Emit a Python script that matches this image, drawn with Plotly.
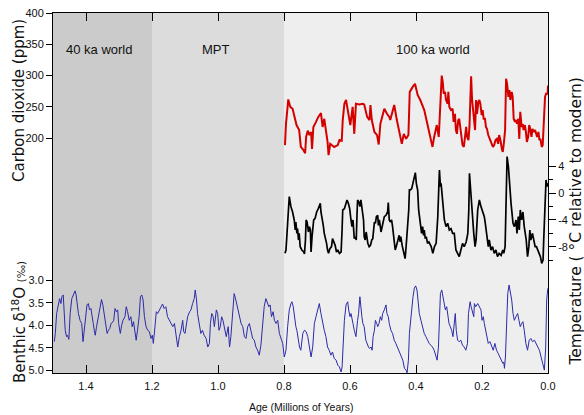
import plotly.graph_objects as go

# ---------------- data ----------------
co2_age = [0.797, 0.794, 0.787, 0.781, 0.774, 0.767, 0.762, 0.754, 0.749, 0.741, 0.736, 0.733, 0.728, 0.723,
           0.718, 0.715, 0.711, 0.703, 0.696, 0.688, 0.683, 0.678, 0.673, 0.668, 0.665, 0.660, 0.648, 0.637,
           0.632, 0.625, 0.622, 0.617, 0.612, 0.605, 0.599, 0.592, 0.587, 0.582, 0.572, 0.562, 0.557, 0.548,
           0.541, 0.538, 0.534, 0.526, 0.518, 0.513, 0.508, 0.501, 0.496, 0.488, 0.481, 0.478, 0.471, 0.466,
           0.458, 0.451, 0.443, 0.437, 0.430, 0.423, 0.419, 0.410, 0.403, 0.395, 0.387, 0.375, 0.368, 0.360,
           0.350, 0.345, 0.337, 0.331, 0.327, 0.322, 0.319, 0.316, 0.312, 0.309, 0.304, 0.302, 0.299, 0.294,
           0.289, 0.286, 0.282, 0.279, 0.276, 0.272, 0.269, 0.266, 0.262, 0.259, 0.255, 0.251, 0.248, 0.245,
           0.241, 0.238, 0.235, 0.233, 0.230, 0.227, 0.223, 0.221, 0.218, 0.215, 0.211, 0.208, 0.205, 0.201,
           0.198, 0.195, 0.191, 0.188, 0.185, 0.181, 0.175, 0.171, 0.167, 0.163, 0.159, 0.155, 0.151, 0.148,
           0.144, 0.140, 0.137, 0.134, 0.130, 0.127, 0.124, 0.120, 0.117, 0.114, 0.110, 0.107, 0.104, 0.100,
           0.097, 0.094, 0.090, 0.087, 0.084, 0.080, 0.077, 0.074, 0.070, 0.067, 0.064, 0.060, 0.057, 0.054,
           0.050, 0.047, 0.043, 0.039, 0.036, 0.033, 0.029, 0.026, 0.023, 0.019, 0.016, 0.013, 0.009, 0.006,
           0.001, 0.000]
co2_ppm = [189, 223, 262, 250, 247, 229, 221, 213, 186, 181, 176, 202, 212, 205,
           210, 183, 218, 226, 234, 240, 218, 231, 215, 194, 173, 191, 186, 189,
           197, 196, 229, 255, 261, 239, 221, 250, 207, 255, 254, 255, 254, 234,
           229, 253, 229, 210, 205, 190, 223, 237, 247, 239, 234, 229, 245, 253,
           229, 210, 191, 207, 199, 205, 274, 282, 287, 269, 261, 245, 229, 210,
           186, 202, 221, 202, 255, 300, 290, 271, 274, 261, 255, 274, 250, 245,
           247, 226, 239, 213, 207, 229, 231, 218, 197, 189, 186, 202, 218, 202,
           197, 218, 255, 299, 261, 245, 223, 213, 261, 239, 258, 261, 255, 237,
           245, 231, 231, 218, 215, 205, 197, 191, 186, 189, 197, 199, 191, 205,
           197, 183, 178, 191, 213, 295, 287, 266, 277, 261, 274, 266, 231, 226,
           229, 223, 231, 199, 242, 218, 223, 213, 221, 210, 194, 202, 221, 215,
           202, 215, 210, 213, 207, 202, 210, 197, 199, 186, 189, 229, 266, 271,
           271, 284]

temp_age = [0.797, 0.794, 0.789, 0.784, 0.779, 0.774, 0.769, 0.766, 0.764, 0.761, 0.759, 0.756, 0.754, 0.751,
            0.746, 0.740, 0.738, 0.735, 0.733, 0.730, 0.726, 0.723, 0.720, 0.718, 0.715, 0.710, 0.706, 0.701,
            0.696, 0.693, 0.690, 0.688, 0.685, 0.681, 0.678, 0.675, 0.671, 0.668, 0.665, 0.661, 0.656, 0.653,
            0.649, 0.645, 0.641, 0.637, 0.632, 0.627, 0.624, 0.622, 0.617, 0.612, 0.609, 0.605, 0.601, 0.597,
            0.594, 0.591, 0.589, 0.587, 0.584, 0.581, 0.579, 0.577, 0.573, 0.570, 0.567, 0.565, 0.562, 0.559,
            0.557, 0.554, 0.551, 0.546, 0.542, 0.538, 0.534, 0.531, 0.526, 0.523, 0.520, 0.516, 0.514, 0.511,
            0.506, 0.503, 0.499, 0.496, 0.491, 0.486, 0.484, 0.481, 0.478, 0.474, 0.471, 0.469, 0.466, 0.463,
            0.460, 0.456, 0.451, 0.448, 0.446, 0.442, 0.439, 0.435, 0.433, 0.430, 0.427, 0.425, 0.422, 0.420,
            0.417, 0.413, 0.409, 0.405, 0.402, 0.399, 0.395, 0.392, 0.389, 0.387, 0.383, 0.380, 0.377, 0.375,
            0.372, 0.369, 0.365, 0.361, 0.354, 0.349, 0.344, 0.339, 0.334, 0.329, 0.326, 0.324, 0.319, 0.316,
            0.314, 0.309, 0.304, 0.299, 0.294, 0.289, 0.284, 0.279, 0.274, 0.269, 0.264, 0.259, 0.254, 0.248,
            0.243, 0.240, 0.238, 0.235, 0.233, 0.228, 0.225, 0.221, 0.218, 0.213, 0.208, 0.203, 0.198, 0.193,
            0.190, 0.185, 0.181, 0.178, 0.173, 0.168, 0.163, 0.158, 0.153, 0.148, 0.142, 0.137, 0.134, 0.130,
            0.127, 0.124, 0.120, 0.117, 0.114, 0.112, 0.109, 0.106, 0.102, 0.097, 0.094, 0.090, 0.087, 0.084,
            0.080, 0.076, 0.072, 0.069, 0.066, 0.062, 0.058, 0.055, 0.052, 0.047, 0.044, 0.039, 0.035, 0.031,
            0.027, 0.023, 0.019, 0.015, 0.013, 0.011, 0.009, 0.006, 0.003, 0.000]
temp_c = [-9.0, -8.5, -4.5, -0.5, -2.0, -2.8, -4.0, -5.5, -4.3, -6.0, -5.3, -7.0, -6.0, -8.0,
          -8.5, -8.8, -9.1, -7.0, -4.0, -4.3, -5.8, -5.0, -5.5, -8.8, -6.5, -4.0, -3.8, -2.8,
          -2.3, -1.8, -1.5, -2.8, -3.5, -4.8, -6.0, -6.5, -7.5, -8.5, -9.0, -8.3, -8.0, -6.8,
          -7.3, -7.8, -8.8, -8.5, -9.0, -8.8, -5.5, -2.5, -2.3, -1.5, -1.0, -1.5, -2.3, -4.0,
          -5.0, -4.0, -5.5, -6.8, -6.5, -7.0, -3.5, -1.0, -1.3, -2.0, -1.0, -2.0, -2.5, -4.0,
          -6.5, -7.0, -5.8, -7.5, -8.0, -7.8, -7.0, -6.8, -4.3, -4.5, -3.5, -3.3, -4.8, -4.0,
          -5.8, -5.0, -4.0, -3.5, -3.3, -2.8, -1.4, -4.0, -4.3, -4.0, -5.0, -6.0, -7.5, -8.5,
          -8.0, -7.0, -6.3, -7.3, -6.5, -7.8, -8.5, -9.3, -9.8, -8.0, -6.0, -3.5, -2.5, 0.5,
          0.5, 0.7, 1.7, 2.7, 3.1, 1.5, 0.5, -2.5, -3.5, -4.0, -6.0, -5.0, -6.3, -5.5,
          -6.8, -6.5, -7.5, -7.3, -8.0, -9.0, -8.0, -7.5, -3.5, 3.5, 1.0, 1.5, -1.5, -2.5,
          -4.0, -5.0, -4.5, -5.5, -5.3, -6.0, -6.0, -8.5, -9.0, -9.5, -8.5, -7.5, -8.0, -7.3,
          -6.0, -2.5, 3.0, 0.5, -1.0, -4.0, -6.0, -8.0, -7.0, -2.5, -1.0, -2.0, -2.8, -3.5,
          -4.5, -6.5, -8.0, -7.0, -8.5, -8.0, -9.0, -8.5, -9.5, -9.0, -9.3, -8.5, -9.0, -8.0,
          -1.0, 5.5, 4.0, 1.5, 0.5, -1.5, -3.0, -4.5, -5.0, -4.0, -6.0, -3.5, -5.5, -2.5,
          -4.0, -2.8, -5.0, -6.0, -7.0, -9.5, -8.0, -5.5, -7.0, -6.0, -7.0, -8.0, -8.0, -8.5,
          -9.3, -9.5, -10.5, -10.0, -7.0, -3.5, -1.0, 2.0, 1.0, 1.5]

d18o_age = [1.496, 1.493, 1.489, 1.484, 1.480, 1.476, 1.473, 1.469, 1.466, 1.463, 1.459, 1.456, 1.452, 1.448,
            1.443, 1.438, 1.433, 1.430, 1.427, 1.423, 1.418, 1.413, 1.409, 1.405, 1.401, 1.397, 1.393, 1.389,
            1.385, 1.382, 1.378, 1.375, 1.372, 1.368, 1.363, 1.358, 1.353, 1.349, 1.345, 1.340, 1.336, 1.332,
            1.328, 1.324, 1.320, 1.316, 1.312, 1.308, 1.304, 1.301, 1.296, 1.292, 1.288, 1.282, 1.278, 1.274,
            1.269, 1.264, 1.260, 1.256, 1.252, 1.248, 1.244, 1.239, 1.235, 1.231, 1.227, 1.223, 1.218, 1.213,
            1.208, 1.203, 1.199, 1.196, 1.191, 1.187, 1.183, 1.178, 1.173, 1.168, 1.163, 1.158, 1.153, 1.148,
            1.143, 1.137, 1.132, 1.127, 1.122, 1.117, 1.112, 1.107, 1.104, 1.100, 1.096, 1.092, 1.086, 1.082,
            1.077, 1.072, 1.069, 1.065, 1.062, 1.057, 1.052, 1.047, 1.042, 1.036, 1.031, 1.026, 1.023, 1.019,
            1.015, 1.011, 1.005, 1.001, 0.997, 0.993, 0.989, 0.985, 0.981, 0.975, 0.969, 0.965, 0.961, 0.956,
            0.951, 0.946, 0.941, 0.936, 0.930, 0.925, 0.920, 0.915, 0.910, 0.905, 0.900, 0.895, 0.890, 0.885,
            0.880, 0.875, 0.870, 0.865, 0.860, 0.855, 0.850, 0.846, 0.842, 0.838, 0.833, 0.829, 0.824, 0.819,
            0.814, 0.809, 0.804, 0.799, 0.794, 0.789, 0.784, 0.779, 0.776, 0.772, 0.769, 0.764, 0.761, 0.757,
            0.753, 0.749, 0.743, 0.738, 0.733, 0.728, 0.723, 0.718, 0.713, 0.708, 0.703, 0.698, 0.693, 0.688,
            0.683, 0.678, 0.673, 0.668, 0.663, 0.658, 0.653, 0.648, 0.642, 0.637, 0.632, 0.627, 0.624, 0.620,
            0.617, 0.612, 0.607, 0.604, 0.600, 0.597, 0.594, 0.591, 0.587, 0.582, 0.577, 0.574, 0.570, 0.567,
            0.564, 0.561, 0.557, 0.552, 0.549, 0.544, 0.541, 0.536, 0.533, 0.530, 0.526, 0.523, 0.519, 0.516,
            0.512, 0.508, 0.504, 0.501, 0.496, 0.491, 0.488, 0.484, 0.481, 0.476, 0.471, 0.466, 0.461, 0.456,
            0.451, 0.446, 0.440, 0.435, 0.430, 0.427, 0.423, 0.420, 0.417, 0.413, 0.409, 0.405, 0.401, 0.397,
            0.394, 0.390, 0.385, 0.380, 0.375, 0.370, 0.365, 0.360, 0.355, 0.350, 0.345, 0.340, 0.336, 0.332,
            0.329, 0.326, 0.322, 0.318, 0.314, 0.311, 0.307, 0.304, 0.300, 0.296, 0.292, 0.288, 0.284, 0.281,
            0.278, 0.274, 0.269, 0.264, 0.259, 0.254, 0.249, 0.244, 0.241, 0.236, 0.233, 0.229, 0.225, 0.223,
            0.219, 0.213, 0.208, 0.203, 0.200, 0.196, 0.193, 0.189, 0.185, 0.181, 0.176, 0.171, 0.166, 0.161,
            0.156, 0.151, 0.146, 0.140, 0.137, 0.134, 0.132, 0.129, 0.125, 0.122, 0.118, 0.114, 0.110, 0.106,
            0.102, 0.097, 0.092, 0.088, 0.084, 0.080, 0.076, 0.072, 0.067, 0.062, 0.057, 0.052, 0.047, 0.041,
            0.036, 0.031, 0.026, 0.021, 0.016, 0.011, 0.007, 0.004, 0.001, 0.000]
d18o_val = [4.36, 4.18, 3.74, 3.52, 3.41, 3.52, 3.37, 3.33, 3.66, 4.11, 4.25, 4.22, 4.31, 3.74,
            3.41, 3.30, 3.24, 3.33, 3.52, 3.74, 3.89, 3.96, 4.36, 4.11, 3.74, 3.55, 3.52, 3.66,
            3.63, 3.74, 3.96, 4.11, 4.22, 4.03, 3.81, 3.59, 3.43, 3.55, 3.74, 3.96, 4.18, 4.11,
            4.07, 3.96, 3.94, 3.89, 3.63, 3.70, 3.66, 3.96, 4.18, 4.00, 3.89, 3.81, 3.59, 3.70,
            3.89, 3.81, 4.03, 3.92, 4.18, 4.33, 4.11, 3.81, 3.37, 3.33, 3.44, 3.81, 4.03, 4.11,
            4.14, 4.29, 4.22, 4.40, 4.03, 3.70, 3.74, 3.66, 3.59, 3.53, 3.63, 3.59, 3.81, 3.89,
            3.96, 4.03, 3.96, 4.22, 4.48, 4.25, 4.11, 3.89, 4.14, 4.18, 4.03, 3.81, 3.70, 3.66,
            3.52, 3.41, 3.22, 3.44, 3.74, 3.96, 4.18, 4.11, 4.22, 4.29, 4.48, 4.40, 3.96, 3.74,
            3.80, 4.03, 3.66, 3.74, 4.11, 4.03, 3.81, 3.89, 4.07, 4.25, 4.03, 4.48, 4.25, 3.74,
            3.30, 3.44, 3.59, 3.74, 3.96, 4.03, 4.25, 4.29, 4.03, 3.96, 4.11, 4.29, 4.33, 4.48,
            4.55, 4.66, 4.44, 3.89, 3.59, 3.41, 3.52, 3.59, 3.55, 3.81, 3.70, 3.89, 3.96, 3.89,
            4.18, 4.29, 4.40, 4.70, 4.55, 4.03, 3.66, 3.52, 3.48, 3.59, 3.81, 4.03, 4.11, 4.33,
            4.48, 4.55, 4.18, 4.11, 4.14, 4.25, 4.48, 4.70, 4.48, 3.96, 3.81, 3.66, 3.52, 3.74,
            3.96, 4.11, 4.25, 4.48, 4.55, 4.66, 4.59, 4.73, 4.77, 4.88, 4.92, 5.03, 4.92, 4.33,
            3.89, 3.55, 3.48, 3.66, 3.81, 3.74, 3.89, 3.96, 4.11, 4.25, 3.89, 3.74, 3.37, 3.66,
            3.81, 3.96, 4.03, 4.33, 4.40, 4.48, 4.51, 4.48, 4.55, 4.25, 4.11, 3.89, 3.96, 4.03,
            3.96, 3.81, 3.89, 3.74, 3.66, 3.55, 3.74, 3.81, 3.96, 4.11, 4.18, 4.33, 4.40, 4.48,
            4.59, 4.66, 4.77, 4.95, 4.99, 5.05, 4.77, 4.18, 3.89, 3.66, 3.37, 3.18, 3.13, 3.22,
            3.44, 3.74, 3.89, 4.03, 4.18, 4.25, 4.33, 4.40, 4.44, 4.48, 4.55, 4.70, 4.77, 4.48,
            3.59, 3.30, 3.22, 3.37, 3.52, 3.66, 3.59, 3.81, 3.96, 4.03, 4.11, 4.25, 3.89, 3.74,
            4.11, 4.33, 4.36, 4.33, 4.44, 4.48, 4.55, 4.40, 3.74, 3.48, 3.59, 3.70, 3.81, 3.52,
            3.59, 3.52, 3.59, 3.66, 3.89, 3.81, 3.96, 4.11, 4.33, 4.40, 4.36, 4.48, 4.55, 4.40,
            4.55, 4.62, 4.70, 4.77, 4.84, 4.81, 4.95, 4.70, 3.74, 3.30, 3.11, 3.30, 3.44, 3.74,
            3.89, 3.81, 3.74, 3.89, 4.03, 3.96, 3.92, 4.11, 4.40, 4.55, 4.33, 4.29, 4.36, 4.33,
            4.40, 4.48, 4.55, 4.70, 4.88, 4.99, 4.48, 3.44, 3.22, 3.18]

periods = ["40 ka world", "MPT", "100 ka world"]
period_start = [1.5, 1.2, 0.8]
period_end = [1.2, 0.8, 0.0]
period_label_x = [1.36, 1.005, 0.35]
period_colors = ["#cbcbcb", "#dcdcdc", "#eeeeee"]

x_ticks = [1.4, 1.2, 1.0, 0.8, 0.6, 0.4, 0.2, 0.0]
co2_ticks = [200, 250, 300, 350, 400]
temp_ticks = [-8, -4, 0, 4]
temp_minor = [-10, -6, -2, 2]
d18o_ticks = [3.0, 3.5, 4.0, 4.5, 5.0]

# ---------------- figure ----------------
W, H = 584, 415
ML, MR, MT, MB = 53, 36, 13, 42
PW = W - ML - MR
PH = H - MT - MB  # 360

# axis ranges chosen so the three series sit in their bands of the shared frame
co2_px = 0.626          # px per ppm
co2_range = [400 - PH / co2_px, 400]
t_px = 6.67             # px per deg C, 0 deg at y=193.3 from top
t_top = (193.3 - MT) / t_px
temp_range = [t_top - PH / t_px, t_top]
d_px = 45.3             # px per permil, 3.0 at y=280 from top
d_top = 3.0 - (280 - MT) / d_px
d18o_range = [d_top + PH / d_px, d_top]

TICKFONT = dict(family="Liberation Sans, Arial, sans-serif", size=11, color="#111")
TITLEFONT = dict(family="DejaVu Sans, Verdana, sans-serif", size=15, color="#111")

fig = go.Figure()
fig.add_trace(go.Scatter(x=d18o_age, y=d18o_val, yaxis="y3", mode="lines",
                         line=dict(color="#2b2ba8", width=1), showlegend=False, hoverinfo="skip"))
fig.add_trace(go.Scatter(x=temp_age, y=temp_c, yaxis="y2", mode="lines",
                         line=dict(color="#000000", width=1.7), showlegend=False, hoverinfo="skip"))
fig.add_trace(go.Scatter(x=co2_age, y=co2_ppm, yaxis="y", mode="lines",
                         line=dict(color="#d40000", width=2), showlegend=False, hoverinfo="skip"))

shapes = []
for s, e, c in zip(period_start, period_end, period_colors):
    shapes.append(dict(type="rect", xref="x", yref="paper", x0=s, x1=e, y0=0, y1=1,
                       fillcolor=c, line=dict(width=0), layer="below"))

annotations = []
for name, xc in zip(periods, period_label_x):
    annotations.append(dict(text=name, x=xc, xref="x", y=1 - (50 - MT) / PH, yref="paper",
                            showarrow=False, xanchor="center", yanchor="middle",
                            font=dict(family="Liberation Sans, Arial, sans-serif", size=13, color="#111")))

annotations.append(dict(text="Carbon dioxide (ppm)", textangle=-90, showarrow=False,
                        xref="paper", yref="paper", x=(19 - ML) / PW, y=1 - (101 - MT) / PH,
                        xanchor="center", yanchor="middle", font=TITLEFONT))
annotations.append(dict(text="Benthic δ<sup>18</sup>O <span style='font-size:10px'>(‰)</span>", textangle=-90,
                        showarrow=False, xref="paper", yref="paper",
                        x=(19 - ML) / PW, y=1 - (322 - MT) / PH,
                        xanchor="center", yanchor="middle", font=TITLEFONT))
annotations.append(dict(text="Temperature ( °C relative to modern)", textangle=-90, showarrow=False,
                        xref="paper", yref="paper", x=(575.5 - ML) / PW, y=1 - (222 - MT) / PH,
                        xanchor="center", yanchor="middle",
                        font=dict(family="DejaVu Sans, Verdana, sans-serif", size=15.5, color="#111")))
annotations.append(dict(text="Age (Millions of Years)", showarrow=False, xref="paper", yref="paper",
                        x=0.5, y=1 - (407 - MT) / PH, xanchor="center", yanchor="middle",
                        font=dict(family="Liberation Sans, Arial, sans-serif", size=10.5, color="#111")))

fig.update_layout(
    width=W, height=H,
    margin=dict(l=ML, r=MR, t=MT, b=MB, autoexpand=False),
    paper_bgcolor="white", plot_bgcolor="white",
    showlegend=False,
    shapes=shapes, annotations=annotations,
    xaxis=dict(range=[1.5, 0.0], tickmode="array", tickvals=x_ticks,
               ticktext=[f"{v:.1f}" for v in x_ticks], automargin=False,
               ticks="inside", ticklen=8, tickwidth=1, tickcolor="black", ticklabelstandoff=3,
               showline=True, linecolor="black", linewidth=1, mirror="ticks",
               showgrid=False, zeroline=False, tickfont=TICKFONT),
    yaxis=dict(range=co2_range, tickmode="array", tickvals=co2_ticks,
               ticktext=[str(v) for v in co2_ticks], automargin=False,
               ticks="outside", ticklen=6, tickwidth=1, tickcolor="black",
               showline=True, linecolor="black", linewidth=1, side="left",
               showgrid=False, zeroline=False, tickfont=TICKFONT),
    yaxis2=dict(range=temp_range, overlaying="y", side="right", anchor="x", automargin=False,
                tickmode="array", tickvals=temp_ticks, ticktext=[str(v) for v in temp_ticks],
                ticks="outside", ticklen=7, tickwidth=1, tickcolor="black",
                minor=dict(tickvals=temp_minor, ticks="outside", ticklen=4, tickcolor="black", showgrid=False),
                showline=True, linecolor="black", linewidth=1,
                showgrid=False, zeroline=False, tickfont=TICKFONT),
    yaxis3=dict(range=d18o_range, overlaying="y", side="left", anchor="x", automargin=False,
                tickmode="array", tickvals=d18o_ticks, ticktext=[f"{v:.1f}" for v in d18o_ticks],
                ticks="outside", ticklen=6, tickwidth=1, tickcolor="black",
                showline=False, showgrid=False, zeroline=False, tickfont=TICKFONT),
)

fig.write_html("out.html", config={"displayModeBar": False},
               post_script="document.body.style.margin='0px';")
